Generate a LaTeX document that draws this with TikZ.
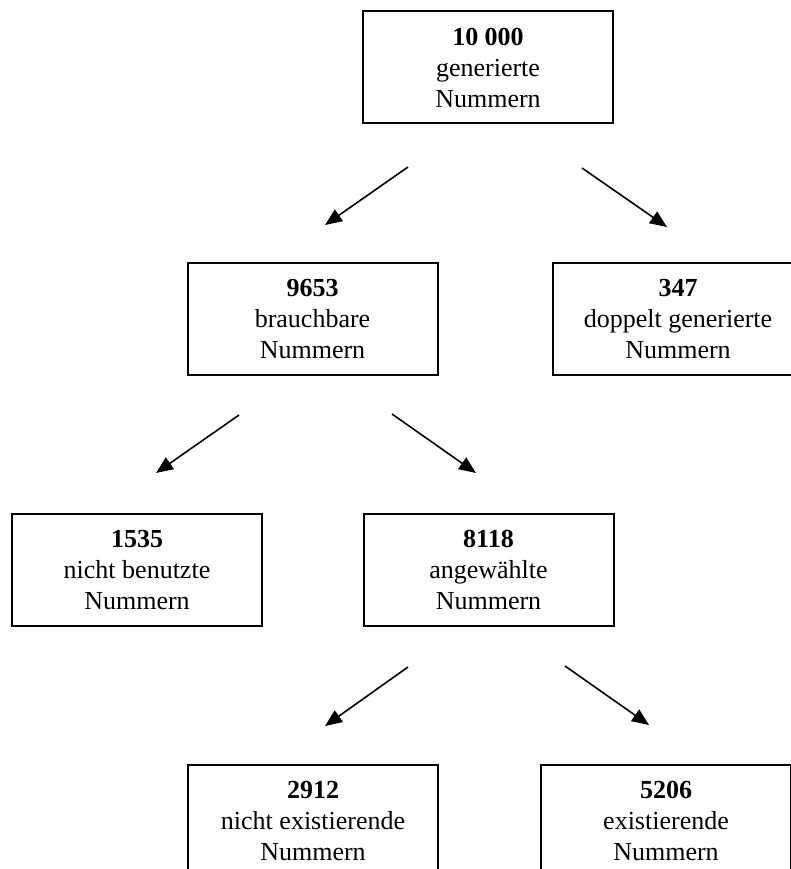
\documentclass[tikz,border=0pt]{standalone}
\usepackage{fontspec}
\setmainfont{Liberation Serif}
\usetikzlibrary{arrows.meta}
\begin{document}
\begin{tikzpicture}[x=1pt,y=-1pt,
 box/.style={draw, line width=2pt, minimum width=250pt, minimum height=112pt, align=center, inner sep=0pt, font=\fontsize{26}{31}\selectfont},
 arr/.style={line width=1.6pt, -{Triangle[length=17pt,width=14pt]}}]
\clip (0,0) rectangle (791,869);
\node[box] (n10000) at (488,67.5) {\textbf{10 000}\\generierte\\Nummern};
\node[box] (n9653) at (312.5,319) {\textbf{9653}\\brauchbare\\Nummern};
\node[box] (n347) at (678,319) {\textbf{347}\\doppelt generierte\\Nummern};
\node[box] (n1535) at (137,570) {\textbf{1535}\\nicht benutzte\\Nummern};
\node[box] (n8118) at (488.5,570) {\textbf{8118}\\angewählte\\Nummern};
\node[box] (n2912) at (313,821) {\textbf{2912}\\nicht existierende\\Nummern};
\node[box] (n5206) at (666,821) {\textbf{5206}\\existierende\\Nummern};
\coordinate (a1s) at (408,167); \coordinate (a1e) at (325,225);
\coordinate (a2s) at (582,168); \coordinate (a2e) at (667,227);
\coordinate (a3s) at (239,415); \coordinate (a3e) at (156,473);
\coordinate (a4s) at (392,414); \coordinate (a4e) at (476,473);
\coordinate (a5s) at (408,667); \coordinate (a5e) at (325,726);
\coordinate (a6s) at (565,666); \coordinate (a6e) at (649,725);
\draw[arr] (a1s) -- (a1e);
\draw[arr] (a2s) -- (a2e);
\draw[arr] (a3s) -- (a3e);
\draw[arr] (a4s) -- (a4e);
\draw[arr] (a5s) -- (a5e);
\draw[arr] (a6s) -- (a6e);
\end{tikzpicture}
\end{document}
